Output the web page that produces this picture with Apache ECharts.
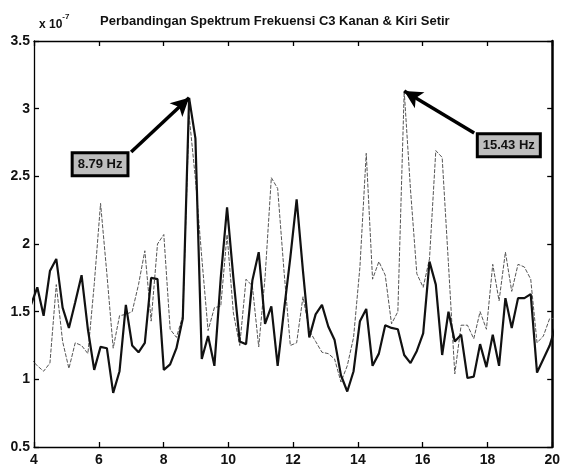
<!DOCTYPE html>
<html>
<head>
<meta charset="utf-8">
<script src="https://cdn.jsdelivr.net/npm/echarts@6/dist/echarts.min.js"></script>
<style>
  html, body { margin: 0; padding: 0; background: #fff; }
  #chart { width: 563px; height: 472px; }
</style>
</head>
<body>
<div id="chart"></div>
<script>
// Frequency bins (Hz), spacing 100/512 Hz
const freqHz = [3.906, 4.102, 4.297, 4.492, 4.688, 4.883, 5.078, 5.273, 5.469, 5.664,
  5.859, 6.055, 6.250, 6.445, 6.641, 6.836, 7.031, 7.227, 7.422, 7.617,
  7.813, 8.008, 8.203, 8.398, 8.594, 8.789, 8.984, 9.180, 9.375, 9.570,
  9.766, 9.961, 10.156, 10.352, 10.547, 10.742, 10.938, 11.133, 11.328, 11.523,
  11.719, 11.914, 12.109, 12.305, 12.500, 12.695, 12.891, 13.086, 13.281, 13.477,
  13.672, 13.867, 14.063, 14.258, 14.453, 14.648, 14.844, 15.039, 15.234, 15.430,
  15.625, 15.820, 16.016, 16.211, 16.406, 16.602, 16.797, 16.992, 17.188, 17.383,
  17.578, 17.773, 17.969, 18.164, 18.359, 18.555, 18.750, 18.945, 19.141, 19.336,
  19.531, 19.727, 19.922, 20.117];

// Spectrum magnitude (x 1e-7), solid dark trace
const spectrumKanan = [1.55, 1.68, 1.47, 1.80, 1.89, 1.53, 1.38, 1.57, 1.77, 1.37,
  1.07, 1.24, 1.23, 0.90, 1.06, 1.55, 1.25, 1.20, 1.27, 1.75,
  1.74, 1.07, 1.11, 1.23, 1.45, 3.08, 2.78, 1.15, 1.32, 1.10,
  1.75, 2.27, 1.75, 1.28, 1.26, 1.73, 1.94, 1.41, 1.54, 1.10,
  1.51, 1.90, 2.33, 1.80, 1.31, 1.48, 1.55, 1.39, 1.29, 1.03,
  0.91, 1.06, 1.43, 1.52, 1.10, 1.19, 1.40, 1.38, 1.37, 1.18,
  1.12, 1.21, 1.34, 1.87, 1.70, 1.18, 1.50, 1.28, 1.33, 1.01,
  1.02, 1.26, 1.09, 1.33, 1.10, 1.60, 1.38, 1.60, 1.60, 1.63,
  1.05, 1.15, 1.25, 1.40];

// Spectrum magnitude (x 1e-7), thin grey trace
const spectrumKiri = [1.15, 1.10, 1.06, 1.12, 1.70, 1.28, 1.08, 1.27, 1.25, 1.19,
  1.70, 2.30, 1.78, 1.23, 1.47, 1.48, 1.50, 1.70, 1.95, 1.43,
  2.00, 2.07, 1.37, 1.31, 1.47, 2.95, 2.48, 1.90, 1.36, 1.53,
  1.54, 2.07, 1.49, 1.25, 1.74, 1.69, 1.24, 1.75, 2.49, 2.41,
  1.80, 1.25, 1.27, 1.61, 1.36, 1.28, 1.20, 1.19, 1.15, 0.98,
  1.10, 1.31, 1.83, 2.67, 1.74, 1.87, 1.77, 1.41, 1.50, 3.13,
  2.40, 1.78, 1.68, 1.89, 2.69, 2.64, 1.85, 1.04, 1.40, 1.40,
  1.30, 1.50, 1.37, 1.85, 1.58, 1.94, 1.65, 1.85, 1.83, 1.74,
  1.27, 1.32, 1.45, 1.45];

const xTicks = { min: 4, max: 20, step: 2 };
const yTicks = { min: 0.5, max: 3.5, step: 0.5 };

// Peak annotations: label text, bin index of the peak, box centre, arrow tail
const peakNotes = [
  { text: '8.79 Hz', bin: 25, trace: 'kanan', box: [6.04, 2.59], tail: [7.0, 2.68] },
  { text: '15.43 Hz', bin: 59, trace: 'kiri', box: [18.66, 2.73], tail: [17.59, 2.82] }
];

const FONT = '"Liberation Sans", Arial, Helvetica, sans-serif';

function pairs(ys) { return ys.map((y, i) => [freqHz[i], y]); }

function notesFor(trace) {
  const vals = trace === 'kanan' ? spectrumKanan : spectrumKiri;
  const list = peakNotes.filter(n => n.trace === trace);
  return {
    markLine: {
      silent: true,
      animation: false,
      symbol: ['none', 'arrow'],
      symbolSize: [14, 18],
      lineStyle: { color: '#000', width: 3.5, type: 'solid' },
      label: { show: false },
      data: list.map(n => [
        { coord: n.tail },
        { coord: [freqHz[n.bin], vals[n.bin]] }
      ])
    },
    markPoint: {
      silent: true,
      animation: false,
      symbol: 'rect',
      symbolSize: 0,
      data: list.map(n => ({
        coord: n.box,
        label: {
          show: true,
          position: 'inside',
          formatter: n.text,
          fontFamily: FONT,
          fontWeight: 'bold',
          fontSize: 13,
          color: '#111',
          backgroundColor: '#bdbdbd',
          borderColor: '#000',
          borderWidth: 3,
          padding: [4, 4, 3, 4]
        }
      }))
    }
  };
}

const chart = echarts.init(document.getElementById('chart'), null, { renderer: 'canvas' });

const axisCommon = {
  type: 'value',
  axisLine: { show: true, lineStyle: { color: '#000', width: 1.3 } },
  axisTick: { show: true, inside: true, length: 5, lineStyle: { color: '#000', width: 1.3 } },
  splitLine: { show: false }
};

chart.setOption({
  animation: false,
  backgroundColor: '#fff',
  title: [
    {
      text: 'Perbandingan Spektrum Frekuensi C3 Kanan & Kiri Setir',
      left: 95, top: 10,
      textStyle: { fontFamily: FONT, fontSize: 13, fontWeight: 'bold', color: '#111' }
    },
    {
      text: '{b|x 10}{s|-7}',
      left: 34, top: 8,
      textStyle: {
        rich: {
          b: { fontFamily: FONT, fontSize: 12, fontWeight: 'bold', color: '#111', padding: [6, 0, 0, 0] },
          s: { fontFamily: FONT, fontSize: 8, fontWeight: 'bold', color: '#111', verticalAlign: 'top' }
        }
      }
    }
  ],
  grid: { left: 34, right: 9, top: 41, bottom: 25 },
  xAxis: [
    Object.assign({}, axisCommon, {
      position: 'bottom', min: xTicks.min, max: xTicks.max, interval: xTicks.step,
      axisLabel: { fontFamily: FONT, fontWeight: 'bold', fontSize: 14, color: '#111', margin: 6 }
    }),
    Object.assign({}, axisCommon, {
      position: 'top', min: xTicks.min, max: xTicks.max, interval: xTicks.step,
      axisLabel: { show: false }
    })
  ],
  yAxis: [
    Object.assign({}, axisCommon, {
      position: 'left', min: yTicks.min, max: yTicks.max, interval: yTicks.step,
      axisLabel: { fontFamily: FONT, fontWeight: 'bold', fontSize: 14, color: '#111', margin: 4 }
    }),
    Object.assign({}, axisCommon, {
      position: 'right', min: yTicks.min, max: yTicks.max, interval: yTicks.step,
      axisLine: { show: true, lineStyle: { color: '#000', width: 2.5 } },
      axisLabel: { show: false }
    })
  ],
  series: [
    Object.assign({
      name: 'Kiri',
      type: 'line',
      xAxisIndex: 0, yAxisIndex: 0,
      data: pairs(spectrumKiri),
      showSymbol: false,
      clip: true,
      lineStyle: { color: '#555', width: 1, type: [4, 1.5] },
      z: 2
    }, notesFor('kiri')),
    Object.assign({
      name: 'Kanan',
      type: 'line',
      xAxisIndex: 0, yAxisIndex: 0,
      data: pairs(spectrumKanan),
      showSymbol: false,
      clip: true,
      lineStyle: { color: '#111', width: 2.2 },
      z: 3
    }, notesFor('kanan'))
  ]
});
</script>
</body>
</html>
